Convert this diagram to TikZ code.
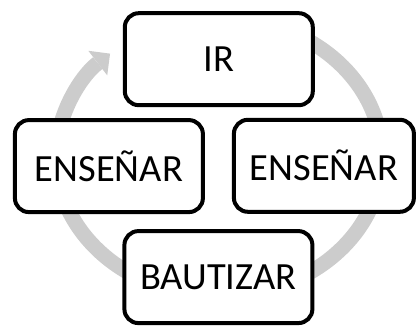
\documentclass[tikz,border=0pt]{standalone}
\usepackage{fontspec}
\setmainfont{Carlito}
\usetikzlibrary{arrows.meta,calc}
\definecolor{ringgray}{HTML}{CCCCCC}
\tikzset{
  stepbox/.style={draw=black, line width=4pt, fill=white, rounded corners=14pt,
    inner sep=0pt, minimum width=188pt, minimum height=92pt,
    font=\fontsize{38.5}{42}\selectfont},
  ring/.style={draw=ringgray, line width=15pt,
    -{Triangle[width=31pt,length=15.5pt,line width=0pt]}}
}
\begin{document}
\begin{tikzpicture}[x=1pt,y=1pt]
\useasboundingbox (0,0) rectangle (416,326);
% cycle ring
\coordinate (rc) at (219,169);
\draw[ring] ($(rc)+(80:162.8 and 139.1)$) arc[start angle=80, end angle=-228, x radius=162.8, y radius=139.1];
% boxes
\node[stepbox] (ir) at (218.8,266.8) {IR};
\node[stepbox] (ensl) at (108.9,159.9) {ENSEÑAR};
\node[stepbox, minimum width=180pt] (ensr) at (323.9,160.2) {ENSEÑAR};
\node[stepbox] (baut) at (218.4,48.9) {BAUTIZAR};
\end{tikzpicture}
\end{document}
